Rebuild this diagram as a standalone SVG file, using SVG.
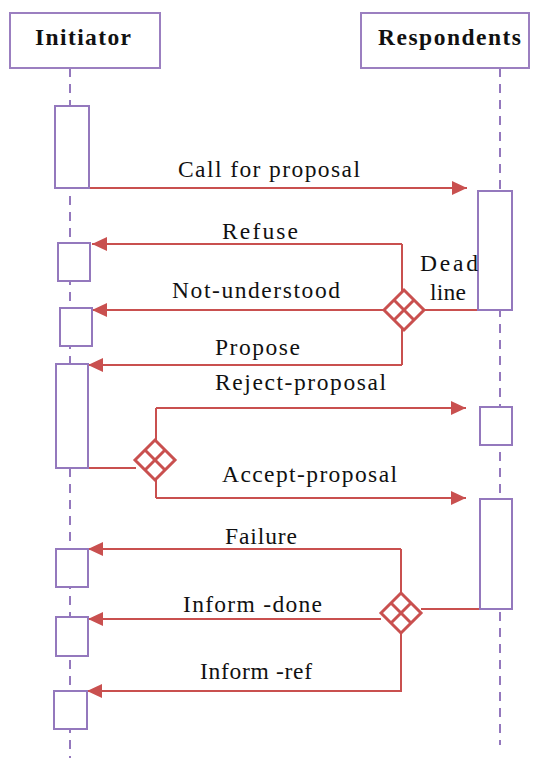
<svg xmlns="http://www.w3.org/2000/svg" width="544" height="758" viewBox="0 0 544 758">
<defs>
<style>
.hdr{fill:#fff;stroke:#9b7fc0;stroke-width:2}
.act{fill:#fff;stroke:#9478bd;stroke-width:2}
.life{stroke:#9478bd;stroke-width:2;stroke-dasharray:9 7;fill:none}
.msg{stroke:#c9504f;stroke-width:2;fill:none}
.dia{fill:#fff;stroke:#c9504f;stroke-width:3}
.dx{stroke:#c9504f;stroke-width:3}
text{font-family:"Liberation Serif","Times New Roman",serif;font-size:23.5px;fill:#111}
.b{font-weight:bold}
</style>
<marker id="ah" markerUnits="userSpaceOnUse" markerWidth="16" markerHeight="16" viewBox="0 0 16 16" refX="15" refY="8" orient="auto">
<path d="M0,1 L15,8 L0,15 Z" fill="#c9504f"/>
</marker>
</defs>

<g id="lifelines">
<line class="life" x1="70" y1="68" x2="70" y2="758"/>
<line class="life" x1="500" y1="68" x2="500" y2="745"/>
</g>

<g id="initiator">
<rect class="hdr" x="10" y="13" width="150" height="55"/>
<text class="b" x="35" y="45" textLength="96" lengthAdjust="spacing">Initiator</text>
</g>
<g id="respondents">
<rect class="hdr" x="361" y="13" width="168" height="55"/>
<text class="b" x="378" y="45" textLength="143" lengthAdjust="spacing">Respondents</text>
</g>

<g id="connectors">
<line class="msg" x1="89" y1="188" x2="467" y2="188" marker-end="url(#ah)"/>
<line class="msg" x1="424" y1="310" x2="496" y2="310"/>
<line class="msg" x1="402" y1="244" x2="402" y2="365"/>
<line class="msg" x1="402" y1="244" x2="92" y2="244" marker-end="url(#ah)"/>
<line class="msg" x1="384" y1="310" x2="92" y2="310" marker-end="url(#ah)"/>
<line class="msg" x1="402" y1="365" x2="88" y2="365" marker-end="url(#ah)"/>
<line class="msg" x1="88" y1="468" x2="136" y2="468"/>
<line class="msg" x1="156" y1="408" x2="156" y2="498"/>
<line class="msg" x1="156" y1="408" x2="466" y2="408" marker-end="url(#ah)"/>
<line class="msg" x1="156" y1="498" x2="466" y2="498" marker-end="url(#ah)"/>
<line class="msg" x1="421" y1="609" x2="497" y2="609"/>
<line class="msg" x1="401" y1="549" x2="401" y2="692"/>
<line class="msg" x1="401" y1="549" x2="88" y2="549" marker-end="url(#ah)"/>
<line class="msg" x1="381" y1="619" x2="88" y2="619" marker-end="url(#ah)"/>
<line class="msg" x1="401" y1="691" x2="87" y2="691" marker-end="url(#ah)"/>
</g>

<g id="activations-initiator">
<rect class="act" x="55" y="106" width="34" height="82"/>
<rect class="act" x="58" y="243" width="32" height="38"/>
<rect class="act" x="60" y="308" width="32" height="38"/>
<rect class="act" x="56" y="364" width="32" height="104"/>
<rect class="act" x="56" y="549" width="32" height="38"/>
<rect class="act" x="56" y="617" width="32" height="39"/>
<rect class="act" x="54" y="691" width="33" height="38"/>
</g>
<g id="activations-respondents">
<rect class="act" x="478" y="191" width="34" height="119"/>
<rect class="act" x="480" y="407" width="32" height="38"/>
<rect class="act" x="480" y="499" width="32" height="110"/>
</g>

<g id="decision1">
<polygon class="dia" points="384,310 404,290 424,310 404,330"/>
<line class="dx" x1="394" y1="300" x2="414" y2="320"/>
<line class="dx" x1="414" y1="300" x2="394" y2="320"/>
</g>
<g id="decision2">
<polygon class="dia" points="135,460 155,440 175,460 155,480"/>
<line class="dx" x1="145" y1="450" x2="165" y2="470"/>
<line class="dx" x1="165" y1="450" x2="145" y2="470"/>
</g>
<g id="decision3">
<polygon class="dia" points="381,613 401,593 421,613 401,633"/>
<line class="dx" x1="391" y1="603" x2="411" y2="623"/>
<line class="dx" x1="411" y1="603" x2="391" y2="623"/>
</g>

<g id="labels">
<text x="178" y="177" textLength="182" lengthAdjust="spacing">Call for proposal</text>
<text x="222" y="239" textLength="76" lengthAdjust="spacing">Refuse</text>
<text x="172" y="298" textLength="168" lengthAdjust="spacing">Not-understood</text>
<text x="215" y="355" textLength="85" lengthAdjust="spacing">Propose</text>
<text x="215" y="390" textLength="171" lengthAdjust="spacing">Reject-proposal</text>
<text x="222" y="482" textLength="175" lengthAdjust="spacing">Accept-proposal</text>
<text x="225" y="544" textLength="72" lengthAdjust="spacing">Failure</text>
<text x="183" y="612" textLength="139" lengthAdjust="spacing">Inform -done</text>
<text x="200" y="679" textLength="112" lengthAdjust="spacing">Inform -ref</text>
<text x="420" y="271" textLength="58" lengthAdjust="spacing">Dead</text>
<text x="430" y="300" textLength="36" lengthAdjust="spacing">line</text>
</g>
</svg>
